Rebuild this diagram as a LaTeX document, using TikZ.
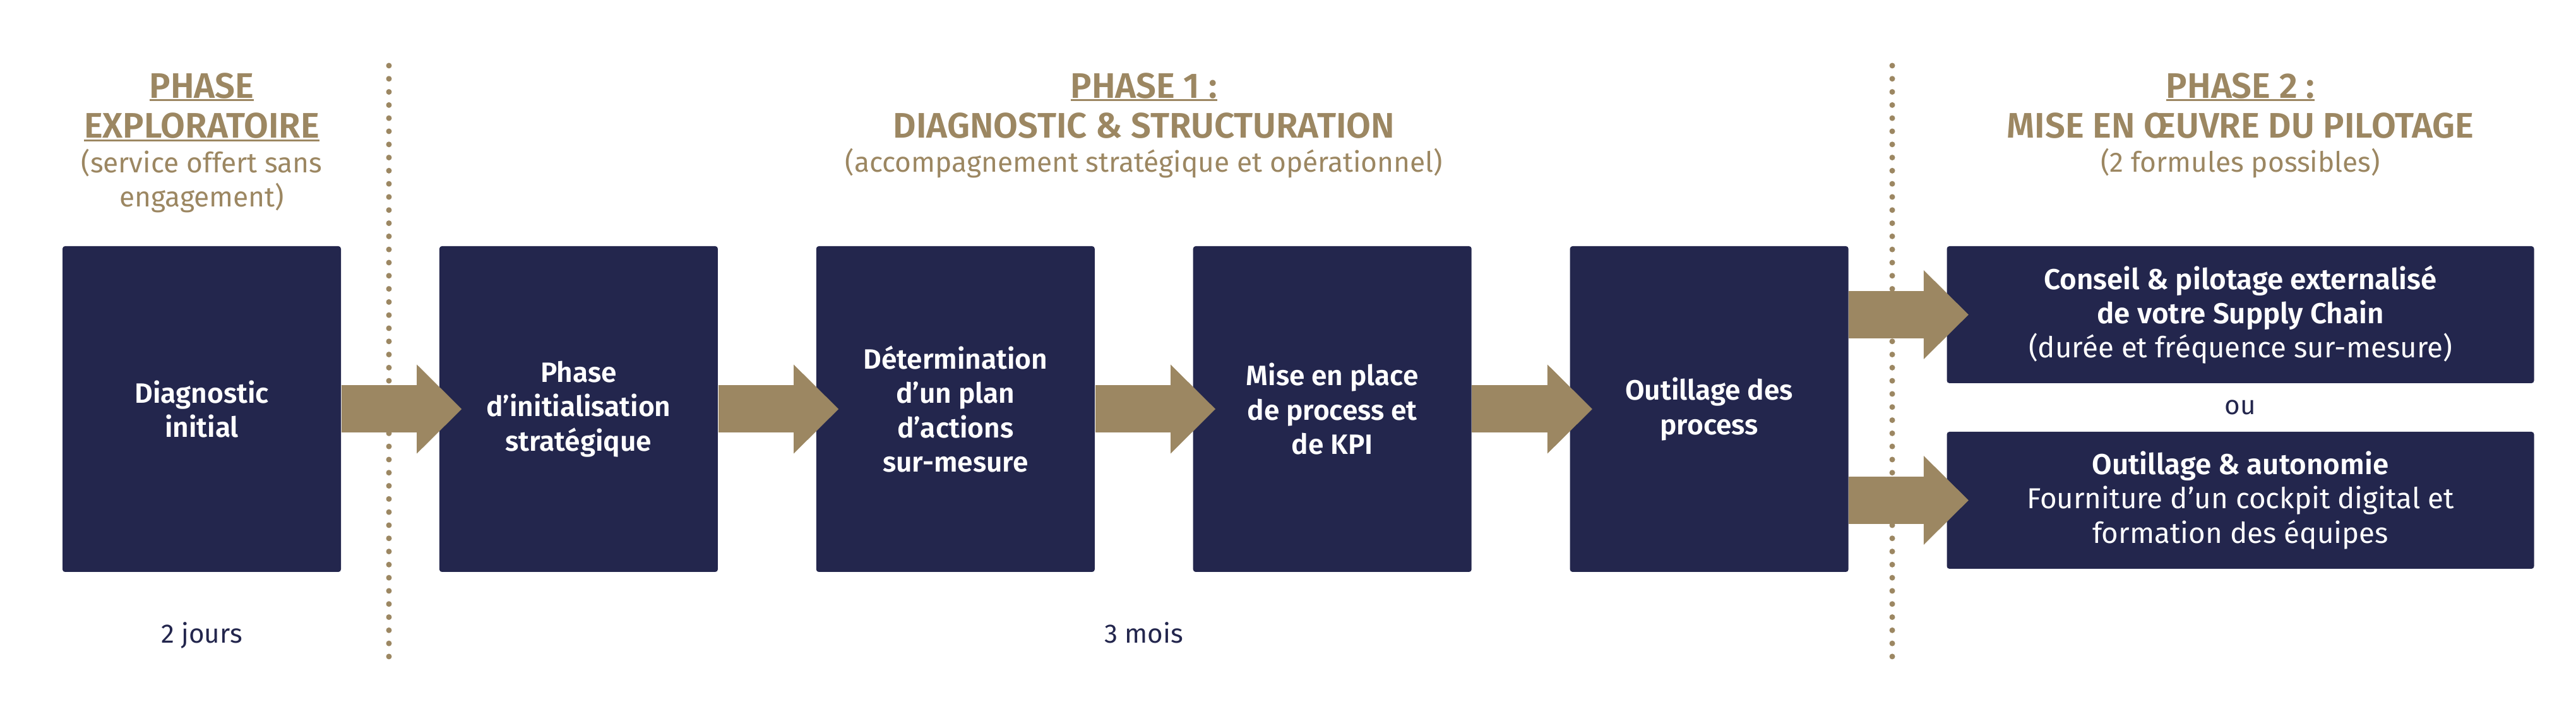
\documentclass[tikz,border=0pt]{standalone}
\usepackage{fontspec}
\setmainfont{Fira Sans}[BoldFont={Fira Sans SemiBold}]
\usepackage{tikz}
\usetikzlibrary{arrows.meta,positioning,calc}
\definecolor{navy}{RGB}{35,38,77}
\definecolor{gold}{RGB}{156,135,98}
\newcommand{\ulhead}[1]{\setbox0\hbox{#1}\rlap{\rule[-1.4pt]{\wd0}{0.75pt}}\box0}

\begin{document}
\begin{tikzpicture}[node distance=1.545cm,
    every node/.style={align=center,inner sep=0pt},
    stepbox/.style={fill=navy,text=white,rounded corners=0.04cm,minimum width=4.41cm,minimum height=5.16cm,font=\fontsize{12.6}{15.5}\selectfont\bfseries},
    choicebox/.style={fill=navy,text=white,rounded corners=0.04cm,minimum width=9.30cm,minimum height=2.17cm,font=\fontsize{13}{15.5}\selectfont},
    phasetitle/.style={anchor=base,text=gold,font=\fontsize{16}{18.2}\selectfont\bfseries},
    phasesub/.style={anchor=base,text=gold,font=\fontsize{12.6}{15.6}\selectfont},
    duration/.style={anchor=base,text=navy,font=\fontsize{12}{15}\selectfont},
    flow/.style={draw=gold,line width=0.75cm,-{Triangle[length=0.71cm,width=1.41cm,line width=0pt]}},
    phaseline/.style={draw=gold,line width=0.09cm,line cap=round,dash pattern=on 0pt off 0.208cm}]
    \path[fill=white] (0,0) rectangle (40.8,11.5);
    \useasboundingbox (0,0) rectangle (40.8,11.5);
    % separateurs de phases
    \draw[phaseline] (6.16,10.46) -- (6.16,1.09);
    \draw[phaseline] (29.97,10.46) -- (29.97,1.09);
    % etapes
    \node[stepbox] (b1) at (3.195,5.02) {Diagnostic\\initial};
    \node[stepbox,right=of b1] (b2) {Phase\\d’initialisation\\stratégique};
    \node[stepbox,right=of b2] (b3) {Détermination\\d’un plan\\d’actions\\sur-mesure};
    \node[stepbox,right=of b3] (b4) {Mise en place\\de process et\\de KPI};
    \node[stepbox,right=of b4] (b5) {Outillage des\\process};
    \node[choicebox,right=of b5.north east,anchor=north west] (c1) {\textbf{Conseil \& pilotage externalisé}\\\textbf{de votre Supply Chain}\\(durée et fréquence sur-mesure)};
    \node[choicebox,right=of b5.south east,anchor=south west,yshift=0.05cm] (c2) {\textbf{Outillage \& autonomie}\\Fourniture d’un cockpit digital et\\formation des équipes};
    \node[duration,anchor=center] (ou) at ($(c1.south)!0.5!(c2.north)$) {ou};
    \coordinate (m1) at ($(b2)!0.5!(b5)$);
    % titres (base = derniere ligne)
    \node[phasetitle] (t0) at (b1 |- 0,9.31) {\ulhead{PHASE}\\\ulhead{EXPLORATOIRE}};
    \node[phasesub] (s0) at (b1 |- 0,8.22) {(service offert sans\\engagement)};
    \node[phasetitle] (t1) at (m1 |- 0,9.31) {\ulhead{PHASE 1 :}\\DIAGNOSTIC \& STRUCTURATION};
    \node[phasesub] (s1) at (m1 |- 0,8.77) {(accompagnement stratégique et opérationnel)};
    \node[phasetitle] (t2) at (c1 |- 0,9.31) {\ulhead{PHASE 2 :}\\MISE EN ŒUVRE DU PILOTAGE};
    \node[phasesub] (s2) at (c1 |- 0,8.77) {(2 formules possibles)};
    % durees
    \node[duration] (d0) at (b1 |- 0,1.31) {2 jours};
    \node[duration] (d1) at (m1 |- 0,1.31) {3 mois};
    % fleches
    \foreach \x/\y in {b1/b2,b2/b3,b3/b4,b4/b5}{\draw[flow] (\x.east) -- ([xshift=0.36cm]\y.west);}
    \foreach \y in {c1,c2}{\draw[flow] (b5.east |- \y.west) -- ([xshift=0.35cm]\y.west);}
\end{tikzpicture}
\end{document}
